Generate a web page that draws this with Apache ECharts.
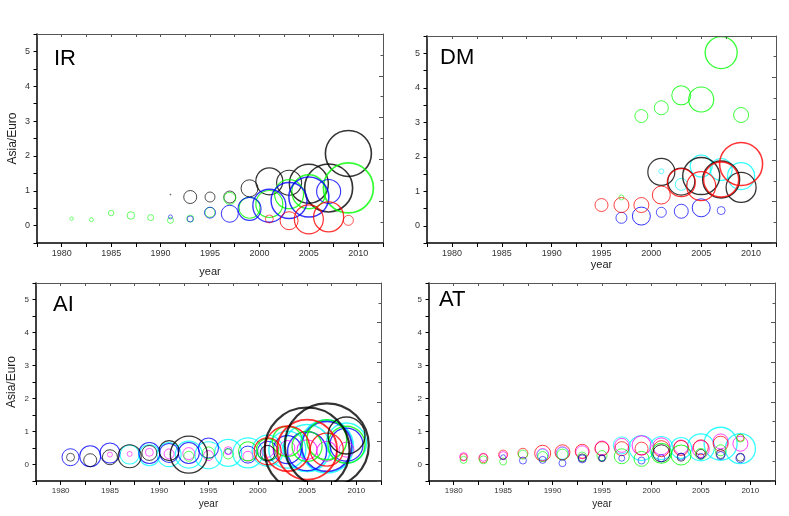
<!DOCTYPE html>
<html>
<head>
<meta charset="utf-8">
<script src="https://cdn.jsdelivr.net/npm/echarts@6/dist/echarts.min.js"></script>
<style>
  html, body { margin: 0; padding: 0; background: #fff; }
  #main { width: 789px; height: 516px; }
</style>
</head>
<body>
<div id="main"></div>
<script>
// 每个点: [年份, Asia/Euro, 气泡直径]
const irBlack = [[1991, 0.89, 1], [1993, 0.82, 13], [1995, 0.82, 10], [1997, 0.82, 12], [1999, 1.07, 17], [2001, 1.27, 27], [2003, 1.23, 25], [2005, 1.2, 39], [2007, 1.08, 48], [2009, 2.07, 46]]
const irGreen = [[1981, 0.2, 3.5], [1983, 0.17, 4], [1985, 0.36, 5.5], [1987, 0.29, 7.5], [1989, 0.23, 6], [1991, 0.15, 6], [1993, 0.2, 7], [1995, 0.38, 10], [1997, 0.78, 12], [1999, 0.51, 21], [2001, 0.62, 27], [2003, 0.9, 29], [2005, 0.97, 34], [2009, 1.08, 50]]
const irBlue = [[1991, 0.25, 4], [1993, 0.19, 6], [1995, 0.37, 11], [1997, 0.34, 17], [1999, 0.48, 23], [2001, 0.57, 33], [2003, 0.72, 36], [2005, 0.82, 40], [2007, 0.98, 24]]
const irRed = [[2001, 0.19, 8], [2003, 0.14, 18], [2005, 0.18, 29], [2007, 0.25, 30], [2009, 0.15, 10]]

const dmGreen = [[1997, 0.82, 5], [1999, 3.18, 13], [2001, 3.42, 14], [2003, 3.78, 19], [2005, 3.66, 25], [2007, 5.02, 32], [2009, 3.21, 15]]
const dmRed = [[1995, 0.6, 13], [1997, 0.6, 15], [1999, 0.6, 15], [2001, 0.89, 18], [2003, 1.25, 28], [2005, 1.15, 29], [2007, 1.34, 35], [2009, 1.79, 43]]
const dmBlack = [[2001, 1.56, 27], [2003, 1.28, 27], [2005, 1.44, 37], [2007, 1.34, 37], [2009, 1.11, 30]]
const dmCyan = [[2001, 1.58, 5], [2003, 1.2, 12], [2005, 1.73, 22], [2007, 1.63, 22], [2009, 1.44, 27]]
const dmBlue = [[1997, 0.23, 11], [1999, 0.28, 18], [2001, 0.39, 10], [2003, 0.42, 14], [2005, 0.52, 18], [2007, 0.44, 8]]

const aiCyan = [[1987, 0.3, 19], [1989, 0.28, 21], [1991, 0.3, 24], [1993, 0.3, 27], [1995, 0.28, 27], [1997, 0.35, 27], [1999, 0.35, 30], [2001, 0.42, 31], [2003, 0.45, 37], [2005, 0.5, 47], [2007, 0.55, 53], [2009, 0.65, 40]]
const aiBlue = [[1981, 0.22, 17], [1983, 0.25, 21], [1985, 0.35, 20], [1989, 0.35, 21], [1991, 0.35, 19], [1993, 0.35, 21], [1995, 0.5, 20], [1997, 0.4, 6], [1999, 0.3, 17], [2001, 0.4, 20], [2003, 0.45, 28], [2005, 0.4, 39], [2007, 0.55, 50], [2009, 0.6, 33]]
const aiMagenta = [[1985, 0.3, 5], [1987, 0.32, 5], [1989, 0.37, 8], [1991, 0.32, 10], [1993, 0.33, 12], [1995, 0.27, 10], [1997, 0.42, 8], [1999, 0.25, 10], [2001, 0.4, 12], [2003, 0.5, 15], [2005, 0.45, 20], [2007, 0.4, 20], [2009, 0.45, 15]]
const aiGreen = [[1993, 0.25, 10], [1995, 0.35, 12], [1997, 0.32, 10], [1999, 0.4, 19], [2001, 0.45, 22], [2003, 0.7, 30], [2005, 0.55, 30], [2007, 0.75, 40], [2009, 0.6, 37]]
const aiRed = [[2001, 0.4, 27], [2003, 0.48, 45], [2005, 0.45, 60], [2007, 0.45, 33]]
const aiBlack = [[1981, 0.22, 8], [1983, 0.13, 13], [1985, 0.22, 15], [1987, 0.25, 23], [1989, 0.35, 15], [1991, 0.42, 20], [1993, 0.3, 37], [2001, 0.35, 15], [2005, 0.44, 85], [2007, 0.58, 84], [2009, 0.88, 37]]

const atCyan = [[1989, 0.3, 11], [1991, 0.34, 12], [1997, 0.58, 17], [1999, 0.5, 25], [2001, 0.5, 23], [2003, 0.5, 21], [2005, 0.52, 27], [2007, 0.63, 33], [2009, 0.48, 30]]
const atMagenta = [[1981, 0.24, 8], [1983, 0.22, 8], [1985, 0.27, 8], [1989, 0.3, 12], [1991, 0.34, 13], [1993, 0.37, 13], [1995, 0.5, 14], [1997, 0.58, 14], [1999, 0.58, 19], [2001, 0.55, 17], [2003, 0.53, 14], [2005, 0.47, 17], [2007, 0.7, 15], [2009, 0.63, 15]]
const atRed = [[1981, 0.22, 7], [1983, 0.19, 9], [1985, 0.3, 9], [1987, 0.34, 10], [1989, 0.34, 16], [1991, 0.37, 15], [1993, 0.4, 14], [1995, 0.48, 14], [1997, 0.48, 14], [1999, 0.48, 13], [2001, 0.48, 16], [2003, 0.5, 15], [2005, 0.52, 15], [2007, 0.63, 15], [2009, 0.81, 7]]
const atGreen = [[1981, 0.14, 7], [1983, 0.14, 8], [1985, 0.09, 7], [1987, 0.3, 9], [1989, 0.24, 10], [1991, 0.3, 11], [1993, 0.24, 9], [1995, 0.27, 10], [1997, 0.25, 15], [1999, 0.17, 15], [2001, 0.34, 20], [2003, 0.29, 20], [2005, 0.32, 11], [2007, 0.43, 11], [2009, 0.8, 8]]
const atBlack = [[1993, 0.2, 8], [1995, 0.19, 7], [2001, 0.34, 17], [2003, 0.22, 8], [2005, 0.32, 9], [2007, 0.32, 9], [2009, 0.22, 8]]
const atBlue = [[1985, 0.22, 5], [1987, 0.12, 7], [1989, 0.14, 7], [1991, 0.04, 7], [1993, 0.17, 8], [1995, 0.19, 6], [1997, 0.19, 6], [1999, 0.12, 7], [2001, 0.19, 7], [2003, 0.24, 7], [2005, 0.25, 6], [2007, 0.27, 8], [2009, 0.19, 9]]

const FONT = 'Liberation Sans, Arial, sans-serif'

const panels = [
  { label: 'IR', rect: { left: 37, top: 34, width: 346, height: 209 }, yName: 'Asia/Euro', yearGap: 23, font: 9,
    labelPos: [54, 61],
    series: [['#000', irBlack], ['#00ff00', irGreen], ['#0000ff', irBlue], ['#ff0000', irRed]] },
  { label: 'DM', rect: { left: 427, top: 36, width: 349, height: 207 }, yName: '', yearGap: 16, font: 9,
    labelPos: [440, 60],
    series: [['#00ff00', dmGreen], ['#0000ff', dmBlue], ['#00ffff', dmCyan], ['#000', dmBlack], ['#ff0000', dmRed]] },
  { label: 'AI', rect: { left: 36, top: 283, width: 345, height: 198 }, yName: 'Asia/Euro', yearGap: 18, font: 8,
    labelPos: [53, 307],
    series: [['#00ffff', aiCyan], ['#0000ff', aiBlue], ['#ff00ff', aiMagenta], ['#00ff00', aiGreen], ['#ff0000', aiRed], ['#000', aiBlack]] },
  { label: 'AT', rect: { left: 429, top: 283, width: 346, height: 198 }, yName: '', yearGap: 18, font: 8,
    labelPos: [439, 302],
    series: [['#00ffff', atCyan], ['#ff00ff', atMagenta], ['#ff0000', atRed], ['#00ff00', atGreen], ['#000', atBlack], ['#0000ff', atBlue]] }
]

const grid = []
const xAxis = []
const yAxis = []
const series = []
const graphic = []

panels.forEach((p, i) => {
  grid.push(Object.assign({ containLabel: false }, p.rect))
  // 下方 x 轴
  xAxis.push({
    gridIndex: i, type: 'value', position: 'bottom', min: 1977.5, max: 2012.5, interval: 2.5, z: 10,
    name: 'year', nameLocation: 'middle', nameGap: p.yearGap,
    nameTextStyle: { fontFamily: FONT, fontSize: p.font + 2, color: '#222' },
    axisLine: { onZero: false, lineStyle: { color: '#000', width: 1.5 } },
    axisTick: { length: 4, lineStyle: { color: '#000' } },
    axisLabel: { interval: 0, margin: 6, fontFamily: FONT, fontSize: p.font, color: '#333',
      formatter: v => (v % 5 === 0 ? String(v) : '') },
    splitLine: { show: false }
  })
  // 上方 x 轴
  xAxis.push({
    gridIndex: i, type: 'value', position: 'top', min: 1977.5, max: 2012.5, interval: 2.5, z: 10,
    axisLine: { onZero: false, lineStyle: { color: '#555', width: 1 } },
    axisTick: { inside: true, length: 3, lineStyle: { color: '#555' } },
    axisLabel: { show: false },
    splitLine: { show: false }
  })
  // 左 y 轴
  yAxis.push({
    gridIndex: i, type: 'value', position: 'left', min: -0.5, max: 5.5, interval: 0.5, z: 10,
    name: p.yName, nameLocation: 'middle', nameRotate: 90, nameGap: 18,
    nameTextStyle: { fontFamily: FONT, fontSize: 12, color: '#222' },
    axisLine: { onZero: false, lineStyle: { color: '#000', width: 1.5 } },
    axisTick: { length: 3.5, lineStyle: { color: '#000' } },
    axisLabel: { interval: 0, margin: 7, fontFamily: FONT, fontSize: p.font, color: '#333',
      formatter: v => (Number.isInteger(v) ? String(v) : '') },
    splitLine: { show: false }
  })
  // 右 y 轴（无标签）
  yAxis.push({
    gridIndex: i, type: 'value', position: 'right', min: 0, max: 5, interval: 1, z: 10,
    axisLine: { onZero: false, lineStyle: { color: '#555', width: 1 } },
    axisTick: { inside: true, length: 4, lineStyle: { color: '#555' } },
    minorTick: { show: true, splitNumber: 2, length: 2.5, lineStyle: { color: '#555' } },
    axisLabel: { show: false },
    splitLine: { show: false }
  })

  p.series.forEach(([color, arr]) => {
    series.push({
      type: 'scatter', xAxisIndex: 2 * i, yAxisIndex: 2 * i, symbol: 'circle', silent: true,
      symbolSize: d => d[2],
      itemStyle: { color: 'rgba(0,0,0,0)', borderColor: color },
      data: arr.map(d => ({ value: d, itemStyle: { borderWidth: Math.min(0.6 + d[2] / 45, 2.2) } }))
    })
  })

  // 遮住溢出坐标区域的气泡
  graphic.push({
    type: 'rect', z: 5, silent: true,
    shape: { x: p.rect.left - 2, y: p.rect.top + p.rect.height + 1, width: p.rect.width + 4, height: 30 },
    style: { fill: '#fff' }
  })
  graphic.push({
    type: 'rect', z: 5, silent: true,
    shape: { x: p.rect.left - 2, y: p.rect.top - 30, width: p.rect.width + 4, height: 29 },
    style: { fill: '#fff' }
  })
  graphic.push({
    type: 'text', z: 20, left: p.labelPos[0], top: p.labelPos[1] - 13,
    style: { text: p.label, fontFamily: FONT, fontSize: 22, fill: '#000' }
  })
})

const chart = echarts.init(document.getElementById('main'))
chart.setOption({
  animation: false,
  backgroundColor: '#fff',
  grid, xAxis, yAxis, series, graphic
})
</script>
</body>
</html>
